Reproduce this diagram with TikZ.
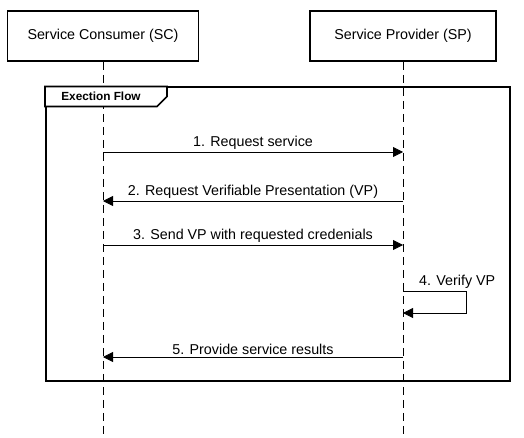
\documentclass[tikz,border=0pt]{standalone}
\usepackage{fontspec}
\setmainfont{Liberation Sans}
\usepackage{tikz}
\usetikzlibrary{arrows.meta,positioning,calc}
\newcommand{\msgfont}{\fontsize{14.3}{16}\selectfont}
\tikzset{
  actor/.style={draw, line width=1.8pt, fill=white, minimum width=191pt,
    minimum height=50pt, inner sep=0pt, font=\msgfont},
  lifeline/.style={dash pattern=on 8pt off 5pt, line width=0.8pt},
  flowframe/.style={draw, line width=2pt, minimum width=464pt,
    minimum height=293pt, inner sep=0pt},
  tablabel/.style={font=\fontsize{11.8}{13}\bfseries\selectfont, inner sep=0pt},
  msg/.style={-{Triangle[length=10pt,width=10pt]}, line width=0.8pt},
  msglabel/.style={font=\msgfont, inner sep=1pt}
}

\begin{document}
\begin{tikzpicture}[x=1pt,y=-1pt]
  \useasboundingbox (0,0) rectangle (524,438);
  % lifeline heads
  \node[actor] (sc) at (103,36) {Service Consumer (SC)};
  \node[actor, minimum width=186pt] (sp) at (403,36) {Service Provider (SP)};
  \coordinate (scend) at (103,438);
  \coordinate (spend) at (403,438);
  \draw[lifeline] (sc) -- (scend);
  \draw[lifeline] (sp) -- (spend);
  % execution frame
  \node[flowframe] (flow) at (278,234) {};
  \draw[line width=1.6pt, fill=white] (flow.north west) -- ++(122,0)
    -- ++(0,10) -- ++(-10,10) -- ++(-112,0) -- cycle;
  \node[tablabel] (flowtab) at ($(flow.north west)+(56,10)$) {Exection Flow};
  % message anchors on lifelines
  \coordinate (sc1) at (103,152);
  \coordinate (sp1) at (403,152);
  \coordinate (sc2) at (103,201);
  \coordinate (sp2) at (403,201);
  \coordinate (sc3) at (103,245);
  \coordinate (sp3) at (403,245);
  \coordinate (sp4a) at (403,291);
  \coordinate (sp4b) at (403,313);
  \coordinate (sc5) at (103,357);
  \coordinate (sp5) at (403,357);
  % messages
  \draw[msg] (sc1) -- node[msglabel, above=1pt] (m1) {1. Request service} (sp1);
  \draw[msg] (sp2) -- node[msglabel, above=1pt] (m2) {2. Request Verifiable Presentation (VP)} (sc2);
  \draw[msg] (sc3) -- node[msglabel, above=1pt] (m3) {3. Send VP with requested credenials} (sp3);
  \draw[msg] (sp4a) -- ++(63,0) -- ++(0,22) -- (sp4b);
  \node[msglabel, above right=1pt and 15pt of sp4a] (m4) {4. Verify VP};
  \draw[msg] (sp5) -- node[msglabel, above=1pt] (m5) {5. Provide service results} (sc5);
\end{tikzpicture}
\end{document}
